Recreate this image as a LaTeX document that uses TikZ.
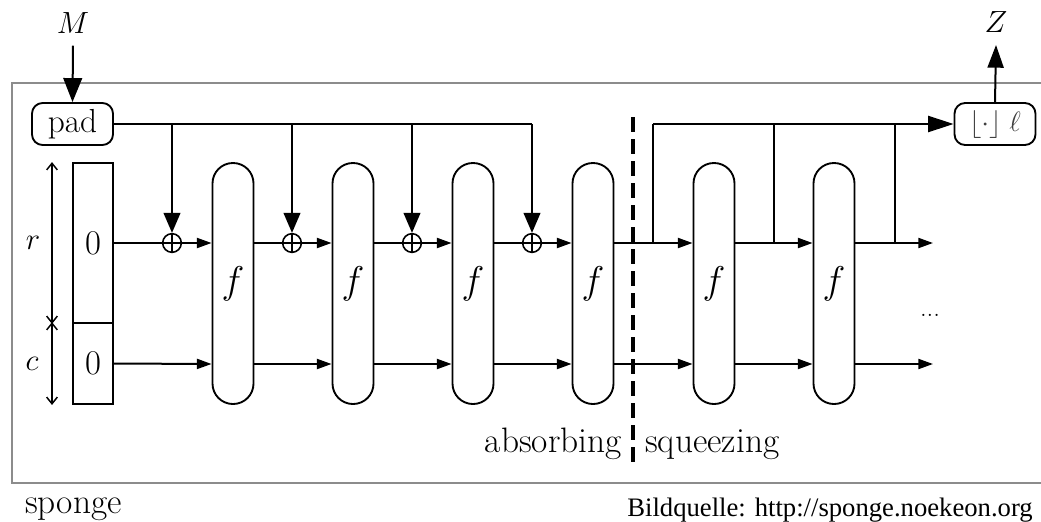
\RequirePackage{fix-cm}
\documentclass[tikz,border=0pt]{standalone}
\usepackage{fontspec}
\newfontfamily\timesfont{Liberation Serif}
\usetikzlibrary{arrows.meta,calc}
\tikzset{
  ln/.style={line width=1.5pt},
  fbox/.style={draw, line width=1.4pt, rounded corners=15.3pt, minimum width=30.75pt, minimum height=180.75pt, inner sep=0pt, font=\fontsize{29}{31}\selectfont},
  statebox/.style={draw, line width=1.4pt, minimum width=30pt, inner sep=0pt, font=\fontsize{26}{28}\selectfont},
  xorc/.style={circle, draw, line width=1.2pt, minimum size=14pt, inner sep=0pt,
    path picture={\draw[line width=1.2pt] (path picture bounding box.north) -- (path picture bounding box.south) (path picture bounding box.west) -- (path picture bounding box.east);}},
  rbox/.style={draw, line width=1.4pt, rounded corners=8pt, minimum width=60.75pt, minimum height=31.5pt, inner sep=0pt},
  flowtip/.style={ln, -{Triangle[length=11pt,width=7.5pt]}},
  padtip/.style={ln, -{Triangle[length=15pt,width=12.5pt]}},
  bigtip/.style={ln, -{Triangle[length=18pt,width=14pt]}},
  dimtip/.style={line width=1.1pt, {Straight Barb[length=5pt,width=8pt]}-{Straight Barb[length=5pt,width=8pt]}},
  mathlbl/.style={inner sep=0pt, font=\fontsize{23}{25}\selectfont},
  txt/.style={inner sep=0pt, font=\fontsize{26.5}{29}\selectfont},
  framel/.style={line width=1.3pt, draw=black!45},
  dashl/.style={line width=2.4pt, dash pattern=on 11pt off 5.5pt}
}
\begin{document}
\begin{tikzpicture}[x=0.75pt,y=-0.75pt]
\useasboundingbox (0,0) rectangle (1041,521);
% frame
\draw[framel] (1045,83) -- (12,83) -- (12,483) -- (1045,483);
% rows
\coordinate (rowA) at (0,243);
\coordinate (rowB) at (0,364);
% nodes
\node[rbox, font=\fontsize{25}{27}\selectfont] (pad) at (72.5,124) {pad};
\node[rbox, font=\fontsize{21}{23}\selectfont, text=black!75] (fl) at (995,124) {$\lfloor\cdot\rfloor\;\ell$};
\node[mathlbl] (M) at (73,23) {$M$};
\node[mathlbl] (Z) at (996,22) {$Z$};
\node[statebox, minimum height=120pt] (s0top) at (93,243) {0};
\node[statebox, minimum height=60.75pt] (s0bot) at (93,363.5) {0};
\foreach \i/\x in {1/233,2/353,3/473,4/593,5/714,6/834}{
  \node[fbox] (f\i) at (\x,283.5) {$f$};
}
\foreach \i/\x in {1/172,2/292,3/412,4/532}{
  \node[xorc] (x\i) at (\x,243) {};
}
\node[mathlbl] (r) at (33,243) {$r$};
\node[mathlbl] (c) at (32,364) {$c$};
\node[inner sep=0pt, anchor=base, font=\fontsize{20}{22}\selectfont] (dots) at (930,316) {...};
\node[txt, anchor=base east] (abs) at (622,452) {absorbing};
\node[txt, anchor=base west] (sqz) at (645,452) {squeezing};
\node[txt, anchor=base west] (spg) at (25,513) {sponge};
\node[inner sep=0pt, anchor=base east, font=\timesfont\fontsize{20}{22}\selectfont] (src) at (1033,516) {Bildquelle: http://sponge.noekeon.org};
% coordinates
\coordinate (dTop) at (633,117);
\coordinate (dBot) at (633,465);
\coordinate (sq1) at (653,243);
\coordinate (sq2) at (774,243);
\coordinate (sq3) at (895,243);
\coordinate (endA) at (933,243);
\coordinate (endB) at (933,364);
\coordinate (dimx) at (52,0);
\coordinate (zEnd) at (996,45);
% M and Z
\draw[bigtip] ([yshift=-9pt]M.south) -- (pad.north);
\draw[ln, -{Triangle[length=17pt,width=12pt]}] (fl.north) -- (zEnd);
% pad line and branches
\draw[ln] (pad.east) -- (x4 |- pad.east);
\foreach \i in {1,...,4}{
  \draw[padtip] (x\i |- pad.east) -- (x\i.north);
}
% top row absorbing
\draw[ln] (s0top.east) -- (x1.west);
\draw[flowtip] (x1.east) -- (f1.west |- rowA);
\draw[ln] (f1.east |- rowA) -- (x2.west);
\draw[flowtip] (x2.east) -- (f2.west |- rowA);
\draw[ln] (f2.east |- rowA) -- (x3.west);
\draw[flowtip] (x3.east) -- (f3.west |- rowA);
\draw[ln] (f3.east |- rowA) -- (x4.west);
\draw[flowtip] (x4.east) -- (f4.west |- rowA);
% top row squeezing
\draw[flowtip] (f4.east |- rowA) -- (f5.west |- rowA);
\draw[flowtip] (f5.east |- rowA) -- (f6.west |- rowA);
\draw[flowtip] (f6.east |- rowA) -- (endA);
% bottom row
\draw[flowtip] (s0bot.east) -- (f1.west |- rowB);
\draw[flowtip] (f1.east |- rowB) -- (f2.west |- rowB);
\draw[flowtip] (f2.east |- rowB) -- (f3.west |- rowB);
\draw[flowtip] (f3.east |- rowB) -- (f4.west |- rowB);
\draw[flowtip] (f4.east |- rowB) -- (f5.west |- rowB);
\draw[flowtip] (f5.east |- rowB) -- (f6.west |- rowB);
\draw[flowtip] (f6.east |- rowB) -- (endB);
% squeezing output
\draw[ln] (sq1) -- (sq1 |- fl.west);
\draw[ln, -{Triangle[length=19pt,width=12pt]}] (sq1 |- fl.west) -- (fl.west);
\draw[ln] (sq2) -- (sq2 |- fl.west);
\draw[ln] (sq3) -- (sq3 |- fl.west);
% dashed separator
\draw[dashl] (dTop) -- (dBot);
% r / c dimension arrows
\draw[dimtip] (dimx |- s0top.south) -- (dimx |- s0top.north);
\draw[dimtip] (dimx |- s0bot.north) -- (dimx |- s0bot.south);
\end{tikzpicture}
\end{document}
